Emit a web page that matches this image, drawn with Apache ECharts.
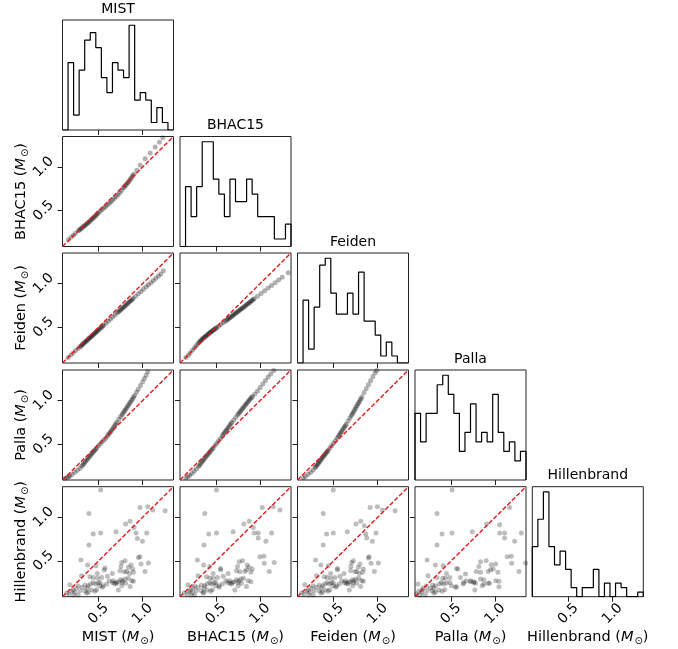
<!DOCTYPE html>
<html><head><meta charset="utf-8">
<script src="https://cdn.jsdelivr.net/npm/echarts@6/dist/echarts.min.js"></script>
<style>html,body{margin:0;padding:0;background:#fff}#c{width:678px;height:649px}</style>
</head><body><div id="c"></div>
<script>
// ---------------- DATA ----------------
const models = ['MIST', 'BHAC15', 'Feiden', 'Palla', 'Hillenbrand'];
const tickVals = [0.5, 1.0];
const axMin = 0.09, axMax = 1.35;

// 1-D histogram counts (20 bins between axMin and axMax)
const mistHist   = [0,9,2,8,12,13,11,7,5,9,8,7,14,4,5,4,1,3,1,0];
const bhacHist   = [0,8,4,8,14,14,9,7,4,9,6,6,9,7,4,4,4,1,1,3];
const feidenHist = [0,9,2,8,14,15,10,7,7,10,7,13,6,6,4,1,3,1,0,0];
const pallaHist  = [7,4,7,7,10,11,9,7,3,5,8,4,5,4,9,5,3,4,2,3];
const hillHist   = [11,17,23,11,7,10,6,2,0,2,2,6,0,3,0,3,2,0,0,1];

// model vs model  [x, y]
const bhacMist = [[0.158,0.170],[0.19,0.198],[0.215,0.220],[0.24,0.245],
[0.27,0.270],[0.282,0.280],[0.294,0.290],[0.306,0.300],[0.318,0.310],[0.33,0.320],[0.342,0.330],[0.354,0.340],[0.366,0.350],[0.378,0.360],[0.39,0.370],[0.402,0.382],[0.414,0.393],[0.426,0.404],[0.438,0.416],[0.45,0.428],[0.462,0.440],[0.474,0.452],[0.486,0.464],[0.498,0.476],
[0.52,0.497],[0.54,0.514],[0.56,0.531],[0.58,0.549],[0.60,0.566],[0.62,0.584],[0.64,0.604],[0.66,0.624],[0.68,0.644],[0.70,0.664],[0.72,0.684],[0.74,0.706],[0.76,0.731],
[0.78,0.759],[0.792,0.774],[0.804,0.789],[0.816,0.803],[0.828,0.816],[0.84,0.831],[0.852,0.848],[0.864,0.866],[0.876,0.884],[0.888,0.902],[0.90,0.919],
[0.934,0.963],[0.972,1.020],[1.028,1.096],[1.085,1.160],[1.142,1.229],[1.191,1.285],[1.229,1.335]];

const feidenMist = [[0.155,0.153],[0.185,0.181],[0.211,0.205],[0.24,0.232],[0.268,0.257],
[0.29,0.277],[0.30,0.286],[0.31,0.296],[0.32,0.305],[0.33,0.314],[0.34,0.324],[0.35,0.333],[0.36,0.342],[0.37,0.351],[0.38,0.361],[0.39,0.370],[0.40,0.379],[0.41,0.388],[0.42,0.397],[0.43,0.406],[0.44,0.415],[0.45,0.425],[0.46,0.434],[0.47,0.443],[0.48,0.452],[0.49,0.461],[0.50,0.470],[0.512,0.481],[0.524,0.492],[0.536,0.503],[0.548,0.514],[0.56,0.525],
[0.585,0.548],[0.61,0.571],[0.635,0.594],[0.66,0.617],[0.685,0.640],[0.71,0.663],
[0.724,0.676],[0.736,0.687],[0.748,0.698],[0.76,0.709],[0.772,0.720],[0.784,0.730],[0.796,0.741],[0.808,0.752],[0.82,0.763],[0.832,0.774],[0.844,0.785],[0.856,0.796],[0.868,0.807],[0.88,0.818],[0.892,0.830],
[0.92,0.855],[0.951,0.882],[0.98,0.909],[1.008,0.935],[1.04,0.963],[1.065,0.985],[1.095,1.010],[1.122,1.035],[1.15,1.060],[1.179,1.087],[1.205,1.110],[1.235,1.148]];

const feidenBhac = [[0.158,0.152],[0.185,0.180],[0.205,0.205],[0.23,0.236],[0.253,0.262],[0.272,0.287],[0.291,0.309],
[0.305,0.324],[0.315,0.335],[0.325,0.346],[0.335,0.357],[0.345,0.366],[0.355,0.375],[0.365,0.383],[0.375,0.392],[0.385,0.400],[0.395,0.408],[0.405,0.416],[0.415,0.425],[0.425,0.433],[0.435,0.441],[0.445,0.449],[0.455,0.457],[0.465,0.464],[0.475,0.471],[0.485,0.479],[0.495,0.487],[0.507,0.495],
[0.53,0.512],[0.555,0.531],[0.58,0.550],[0.605,0.569],
[0.62,0.581],[0.632,0.590],[0.644,0.600],[0.656,0.609],[0.668,0.618],[0.68,0.628],[0.692,0.637],[0.704,0.646],[0.716,0.656],[0.728,0.665],[0.74,0.674],[0.752,0.684],[0.764,0.693],[0.776,0.702],[0.788,0.712],[0.80,0.721],[0.812,0.730],[0.824,0.740],[0.836,0.749],[0.848,0.759],[0.86,0.768],[0.872,0.778],[0.884,0.787],[0.896,0.797],[0.908,0.807],[0.92,0.816],[0.932,0.826],
[0.97,0.855],[1.01,0.886],[1.05,0.917],[1.09,0.948],[1.13,0.979],[1.17,1.010],[1.21,1.040],[1.25,1.071],[1.318,1.125]];

const pallaMist = [[0.117,0.110],[0.14,0.118],[0.16,0.128],[0.175,0.135],[0.2,0.155],[0.23,0.180],[0.26,0.203],[0.29,0.225],
[0.31,0.250],[0.322,0.265],[0.334,0.280],[0.346,0.295],[0.358,0.311],[0.37,0.326],[0.382,0.342],[0.394,0.356],[0.406,0.371],[0.418,0.386],[0.43,0.400],[0.442,0.414],[0.454,0.429],[0.466,0.443],[0.478,0.457],
[0.50,0.482],[0.52,0.504],[0.54,0.527],[0.56,0.547],[0.58,0.569],
[0.60,0.593],[0.612,0.610],[0.624,0.627],[0.636,0.644],[0.648,0.661],[0.66,0.678],[0.672,0.696],[0.684,0.714],[0.696,0.733],[0.708,0.752],
[0.73,0.785],[0.75,0.815],
[0.765,0.838],[0.777,0.856],[0.789,0.874],[0.80,0.890],[0.812,0.908],[0.824,0.926],[0.836,0.944],[0.848,0.962],[0.86,0.981],[0.872,1.000],[0.884,1.019],[0.896,1.038],[0.908,1.058],
[0.93,1.096],[0.95,1.130],[0.975,1.172],[1.00,1.215],[1.02,1.252],[1.04,1.290],[1.058,1.330]];

const pallaBhac = [[0.158,0.115],[0.18,0.128],[0.20,0.145],[0.225,0.165],[0.25,0.190],[0.275,0.215],
[0.30,0.245],[0.312,0.260],[0.324,0.276],[0.336,0.292],[0.348,0.307],[0.36,0.323],[0.372,0.339],[0.384,0.355],[0.396,0.370],[0.408,0.385],[0.42,0.400],[0.432,0.415],[0.444,0.430],[0.456,0.445],[0.468,0.460],
[0.49,0.488],[0.51,0.513],[0.53,0.540],[0.55,0.566],
[0.57,0.597],[0.582,0.613],[0.594,0.630],[0.606,0.647],[0.618,0.663],[0.63,0.680],[0.642,0.697],[0.654,0.715],[0.666,0.733],[0.678,0.750],
[0.70,0.778],[0.725,0.810],
[0.745,0.838],[0.757,0.853],[0.769,0.868],[0.781,0.884],[0.793,0.899],[0.805,0.914],[0.817,0.930],[0.829,0.945],[0.841,0.960],[0.853,0.976],[0.865,0.991],[0.877,1.006],[0.889,1.020],[0.901,1.034],[0.913,1.046],
[0.94,1.075],[0.97,1.110],[1.00,1.150],[1.03,1.190],[1.06,1.230],[1.09,1.270],[1.12,1.305],[1.155,1.345]];

const pallaFeiden = [[0.155,0.115],[0.18,0.130],[0.211,0.155],[0.24,0.180],[0.268,0.205],
[0.29,0.232],[0.30,0.245],[0.31,0.258],[0.32,0.272],[0.33,0.286],[0.34,0.300],[0.35,0.314],[0.36,0.328],[0.37,0.342],[0.38,0.355],[0.39,0.368],[0.40,0.381],[0.41,0.394],[0.42,0.407],[0.43,0.420],[0.44,0.433],
[0.46,0.459],[0.48,0.486],[0.50,0.513],[0.52,0.541],[0.54,0.570],
[0.555,0.592],[0.566,0.609],[0.577,0.626],[0.588,0.643],[0.599,0.660],[0.61,0.677],[0.621,0.694],[0.632,0.712],[0.643,0.730],
[0.665,0.766],[0.685,0.800],
[0.70,0.826],[0.711,0.845],[0.722,0.864],[0.733,0.883],[0.744,0.903],[0.755,0.922],[0.766,0.942],[0.777,0.962],[0.788,0.982],[0.799,1.002],[0.81,1.022],[0.821,1.042],
[0.845,1.088],[0.87,1.135],[0.895,1.180],[0.92,1.228],[0.945,1.272],[0.97,1.315],[0.99,1.345]];

// Hillenbrand vs each model  [model, Hillenbrand]
const hillMist = [[0.523,1.311],[0.390,1.044],[0.970,1.113],[1.058,1.121],[1.115,1.082],[1.255,1.075],
[0.857,0.953],[0.807,0.922],[0.902,0.884],[0.439,0.808],[0.523,0.819],[0.697,0.834],[0.925,0.819],[1.046,0.819],
[0.390,0.682],[0.940,0.758],[0.997,0.724],[0.970,0.548],[0.951,0.540],[0.800,0.502],[0.762,0.483],[0.754,0.437],[0.982,0.464],[1.065,0.475],
[0.299,0.510],[0.375,0.453],[0.470,0.445],[0.868,0.453],[0.838,0.426],[0.887,0.407],[0.819,0.380],[0.849,0.357],[0.895,0.369],[1.027,0.380],
[0.572,0.418],[0.564,0.395],[0.485,0.357],[0.655,0.357],[0.743,0.388],[0.792,0.376],
[0.306,0.330],[0.401,0.319],[0.439,0.311],[0.488,0.300],[0.534,0.311],
[0.599,0.323],[0.621,0.273],[0.655,0.254],[0.678,0.243],[0.697,0.235],[0.724,0.262],[0.750,0.285],[0.773,0.273],[0.800,0.292],[0.838,0.300],[0.876,0.273],[0.895,0.266],
[0.173,0.227],[0.211,0.166],[0.268,0.212],[0.314,0.197],[0.344,0.224],[0.382,0.216],[0.409,0.235],[0.439,0.254],[0.466,0.235],[0.496,0.246],[0.515,0.254],[0.542,0.197],
[0.344,0.159],[0.382,0.140],[0.420,0.166],[0.458,0.151],[0.477,0.170],[0.515,0.216],
[0.242,0.189],[0.287,0.159],[0.371,0.189],
[0.553,0.216],[0.591,0.235],[0.667,0.273],[0.705,0.254],[0.769,0.254],[0.807,0.243],[0.857,0.208],[0.724,0.166],[0.762,0.216],
[0.166,0.121],[0.219,0.109],[0.268,0.109],[0.363,0.132],[0.192,0.151],[0.136,0.132],[0.230,0.140]];

const hillBhac = [[0.504,1.311],[0.371,1.044],[1.024,1.113],[1.149,1.121],[1.225,1.082],
[0.876,0.953],[0.815,0.922],[0.921,0.884],[0.416,0.808],[0.504,0.819],[0.693,0.834],[0.932,0.819],[0.978,0.819],[1.130,0.819],
[0.363,0.682],[0.978,0.762],[1.065,0.724],[0.997,0.548],[1.043,0.552],[0.800,0.502],[0.762,0.491],[0.743,0.437],[1.046,0.472],[1.160,0.483],
[0.287,0.510],[0.359,0.453],[0.428,0.437],[0.853,0.453],[0.872,0.426],[0.910,0.407],[0.826,0.380],[0.845,0.399],[0.895,0.369],[1.103,0.380],
[0.549,0.414],[0.553,0.399],[0.466,0.357],[0.636,0.357],[0.731,0.388],[0.769,0.376],
[0.295,0.330],[0.390,0.319],[0.428,0.304],[0.466,0.300],[0.515,0.311],
[0.580,0.323],[0.610,0.273],[0.629,0.254],[0.655,0.243],[0.674,0.235],[0.705,0.262],[0.731,0.285],[0.758,0.273],[0.781,0.292],[0.811,0.300],[0.864,0.273],[0.895,0.262],
[0.181,0.227],[0.208,0.166],[0.257,0.212],[0.295,0.197],[0.333,0.224],[0.371,0.216],[0.397,0.235],[0.428,0.254],[0.447,0.235],[0.477,0.246],[0.496,0.254],[0.534,0.197],
[0.333,0.159],[0.363,0.140],[0.401,0.166],[0.439,0.151],[0.458,0.170],[0.496,0.216],
[0.238,0.189],[0.276,0.159],[0.363,0.189],
[0.534,0.216],[0.572,0.235],[0.655,0.273],[0.686,0.254],[0.750,0.254],[0.788,0.243],[0.845,0.208],[0.712,0.166],[0.750,0.216],
[0.173,0.121],[0.219,0.109],[0.257,0.109],[0.352,0.132],[0.192,0.151],[0.136,0.132],[0.230,0.140]];

const hillFeiden = [[0.496,1.311],[0.382,1.044],[0.914,1.113],[0.997,1.121],[1.054,1.082],[1.198,1.075],
[0.807,0.953],[0.754,0.922],[0.849,0.903],[0.420,0.808],[0.496,0.819],[0.655,0.834],[0.864,0.808],[0.982,0.819],
[0.382,0.682],[0.876,0.762],[0.940,0.724],[0.902,0.548],[0.895,0.533],[0.724,0.502],[0.705,0.483],[0.697,0.437],[0.925,0.472],[1.008,0.475],
[0.295,0.510],[0.356,0.453],[0.439,0.445],[0.800,0.464],[0.781,0.426],[0.838,0.407],[0.762,0.380],[0.792,0.357],[0.830,0.369],[0.963,0.380],
[0.542,0.414],[0.545,0.399],[0.466,0.357],[0.618,0.357],[0.693,0.388],[0.743,0.376],
[0.306,0.330],[0.394,0.319],[0.428,0.311],[0.470,0.300],[0.515,0.311],
[0.572,0.323],[0.591,0.273],[0.621,0.254],[0.640,0.243],[0.659,0.235],[0.686,0.262],[0.712,0.285],[0.731,0.273],[0.754,0.292],[0.788,0.300],[0.819,0.273],[0.838,0.266],
[0.173,0.227],[0.211,0.166],[0.268,0.212],[0.306,0.197],[0.337,0.224],[0.375,0.216],[0.401,0.235],[0.428,0.254],[0.451,0.235],[0.477,0.246],[0.496,0.254],[0.523,0.197],
[0.337,0.159],[0.375,0.140],[0.409,0.166],[0.439,0.151],[0.458,0.170],[0.496,0.216],
[0.242,0.189],[0.280,0.159],[0.363,0.189],
[0.534,0.216],[0.564,0.235],[0.636,0.273],[0.667,0.254],[0.724,0.254],[0.762,0.243],[0.807,0.208],[0.678,0.166],[0.716,0.216],
[0.166,0.121],[0.219,0.109],[0.268,0.109],[0.356,0.132],[0.192,0.151],[0.136,0.132],[0.230,0.140]];

const hillPalla = [[0.511,1.311],[0.340,1.044],[1.164,1.113],[0.902,0.922],[1.050,0.914],
[0.397,0.808],[0.511,0.819],[0.739,0.834],[1.050,0.819],[1.107,0.819],[1.297,0.819],[1.107,0.762],
[0.340,0.682],[1.221,0.724],[1.137,0.548],[1.183,0.552],[1.187,0.472],[0.834,0.491],[0.815,0.437],[0.898,0.502],[1.346,0.475],
[0.227,0.510],[0.321,0.453],[0.409,0.445],[1.005,0.464],[0.955,0.456],[0.978,0.407],[0.921,0.380],[1.031,0.369],[0.948,0.399],[1.270,0.380],
[0.561,0.414],[0.576,0.407],[0.447,0.357],[0.663,0.350],[0.785,0.380],[0.834,0.369],
[0.238,0.330],[0.340,0.311],[0.405,0.300],[0.435,0.300],[0.485,0.311],
[0.606,0.311],[0.644,0.254],[0.671,0.273],[0.720,0.262],[0.758,0.262],[0.777,0.243],[0.834,0.292],[0.872,0.285],[0.921,0.243],[1.005,0.273],[1.043,0.266],
[0.124,0.235],[0.170,0.166],[0.219,0.212],[0.265,0.189],[0.291,0.224],[0.321,0.216],[0.367,0.235],[0.390,0.254],[0.416,0.235],[0.447,0.246],[0.485,0.254],[0.549,0.197],
[0.284,0.159],[0.321,0.140],[0.359,0.166],[0.397,0.151],[0.428,0.170],[0.504,0.216],
[0.181,0.189],[0.227,0.159],[0.303,0.189],
[0.561,0.204],[0.637,0.235],[0.720,0.273],[0.758,0.254],[0.872,0.235],[0.936,0.243],[1.043,0.204],[0.769,0.166],[0.853,0.216],
[0.109,0.121],[0.151,0.109],[0.208,0.109],[0.303,0.132],[0.132,0.151],[0.170,0.140]];

// ---------------- LAYOUT ----------------
const hists = [mistHist, bhacHist, feidenHist, pallaHist, hillHist];
const pairs = {'1-0': bhacMist, '2-0': feidenMist, '2-1': feidenBhac,
  '3-0': pallaMist, '3-1': pallaBhac, '3-2': pallaFeiden,
  '4-0': hillMist, '4-1': hillBhac, '4-2': hillFeiden, '4-3': hillPalla};

const FONT = 'DejaVu Sans';
const colLeft = [62.5, 180, 297.5, 415, 532.3];
const rowTop = [20, 136.5, 253, 370, 486.7];
const W = 111, H = 110;

const grids = [], xAxes = [], yAxes = [], series = [], graphics = [];
const tickStyle = {show: true, customValues: tickVals, length: 5, inside: false, lineStyle: {color: '#222', width: 1}};
function labelStyle(show, margin) {
  return {show: show, customValues: tickVals, formatter: v => v.toFixed(1), rotate: 45,
    align: 'center', verticalAlign: 'middle', margin: margin,
    fontFamily: FONT, fontSize: 14, color: '#000'};
}
let g = 0;
for (let i = 0; i < 5; i++) {
  for (let j = 0; j <= i; j++) {
    grids.push({left: colLeft[j], top: rowTop[i], width: W, height: H, show: true,
      borderColor: '#222', borderWidth: 1, backgroundColor: 'rgba(0,0,0,0)'});
    xAxes.push({type: 'value', gridIndex: g, min: axMin, max: axMax, position: 'bottom',
      axisLine: {show: false}, splitLine: {show: false}, axisTick: tickStyle,
      axisLabel: labelStyle(i === 4, 17)});
    if (i === j) {
      const h = hists[i];
      const hmax = Math.max(...h) * 1.05;
      yAxes.push({type: 'value', gridIndex: g, min: 0, max: hmax, show: false});
      const step = (axMax - axMin) / h.length;
      const outline = [[axMin, 0]];
      h.forEach((c, k) => { outline.push([axMin + k * step, c]); outline.push([axMin + (k + 1) * step, c]); });
      outline.push([axMax, 0]);
      series.push({type: 'line', xAxisIndex: g, yAxisIndex: g, data: outline, symbol: 'none',
        lineStyle: {color: '#000', width: 1.2}, silent: true, clip: true, z: 3});
      graphics.push({type: 'text', x: colLeft[j] + W / 2, y: rowTop[i] - 11,
        style: {text: models[i], font: '14px ' + FONT, fill: '#000', align: 'center', verticalAlign: 'middle'}});
    } else {
      const isModel = i < 4;
      yAxes.push({type: 'value', gridIndex: g, min: axMin, max: axMax, position: 'left',
        axisLine: {show: false}, splitLine: {show: false}, axisTick: tickStyle,
        axisLabel: labelStyle(j === 0, 19)});
      series.push({type: 'scatter', xAxisIndex: g, yAxisIndex: g, data: pairs[i + '-' + j],
        symbol: 'circle', symbolSize: 5, itemStyle: {color: isModel ? 'rgba(0,0,0,0.38)' : 'rgba(0,0,0,0.32)'},
        silent: true, clip: true, z: 2});
      series.push({type: 'line', xAxisIndex: g, yAxisIndex: g, data: [[axMin, axMin], [axMax, axMax]],
        symbol: 'none', lineStyle: {color: 'rgb(225,25,25)', width: 1.4, type: [4.5, 2]}, silent: true, z: 4});
    }
    g++;
  }
}

function massText(name) {
  return {
    text: '{a|' + name + ' (}{m|M}{s|⊙}{a|)}',
    rich: {
      a: {fontFamily: FONT, fontSize: 14.5, fill: '#000'},
      m: {fontFamily: FONT, fontSize: 14.5, fontStyle: 'italic', fill: '#000'},
      s: {fontFamily: FONT, fontSize: 10, fill: '#000', padding: [8, 0, 0, 1]}
    },
    fill: '#000', align: 'center', verticalAlign: 'middle'
  };
}
for (let j = 0; j < 5; j++) {
  graphics.push({type: 'text', x: colLeft[j] + W / 2, y: 637, style: massText(models[j])});
}
for (let i = 1; i < 5; i++) {
  graphics.push({type: 'text', x: 21, y: rowTop[i] + H / 2, rotation: Math.PI / 2, style: massText(models[i])});
}

const chart = echarts.init(document.getElementById('c'), null, {renderer: 'canvas'});
chart.setOption({
  animation: false,
  backgroundColor: '#fff',
  grid: grids, xAxis: xAxes, yAxis: yAxes, series: series,
  graphic: graphics
});
</script></body></html>
